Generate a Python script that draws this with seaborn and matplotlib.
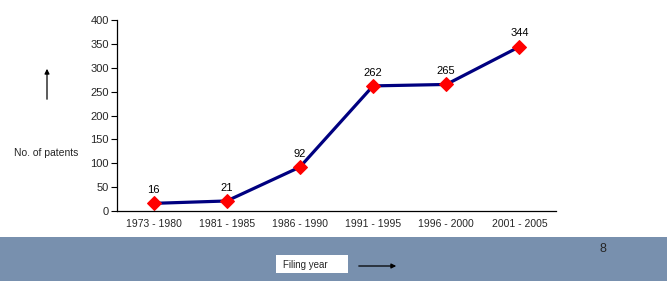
import matplotlib
matplotlib.use("Agg")
import matplotlib.pyplot as plt
import seaborn as sns
import pandas as pd
from matplotlib.patches import Rectangle

periods = ["1973 - 1980", "1981 - 1985", "1986 - 1990", "1991 - 1995", "1996 - 2000", "2001 - 2005"]
patents = [16, 21, 92, 262, 265, 344]
y_ticks = [0, 50, 100, 150, 200, 250, 300, 350, 400]

sns.set_style("white")
plt.rcParams['font.family'] = ['Liberation Sans', 'DejaVu Sans']

df = pd.DataFrame({"period": periods, "patents": patents, "pos": range(len(periods))})

fig = plt.figure(figsize=(6.67, 2.81), dpi=100)
fig.patch.set_facecolor("white")

# bottom band
fig.patches.append(Rectangle((0, 0), 1, 1 - 237 / 281, transform=fig.transFigure,
                             facecolor="#7890ae", edgecolor="none", zorder=0))

ax = fig.add_axes([117 / 667, 1 - 211 / 281, (556 - 117) / 667, (211 - 20) / 281])
ax.set_facecolor("none")

sns.lineplot(data=df, x="pos", y="patents", ax=ax, color="#000080", linewidth=2.3,
             marker="D", markersize=7.5, markerfacecolor="#ff0000", markeredgecolor="#ff0000")

for p, v in zip(df["pos"], df["patents"]):
    ax.annotate(str(v), (p, v), xytext=(0, 6), textcoords="offset points",
                ha="center", va="bottom", fontsize=8, color="black")

ax.set_xlim(-0.5, len(periods) - 0.5)
ax.set_ylim(0, 400)
ax.set_yticks(y_ticks)
ax.set_yticklabels([str(t) for t in y_ticks], fontsize=8)
ax.set_xticks(range(len(periods)))
ax.set_xticklabels(periods, fontsize=7.5)
ax.set_xticks([i - 0.5 for i in range(len(periods) + 1)], minor=True)
ax.tick_params(axis="x", which="major", length=0, pad=6)
ax.tick_params(axis="x", which="minor", length=4, direction="out", width=0.8, color="black")
ax.tick_params(axis="y", which="major", length=4, direction="out", width=0.8, color="black", pad=2, left=True)
ax.set_xlabel("")
ax.set_ylabel("")
for s in ["top", "right"]:
    ax.spines[s].set_visible(False)
for s in ["left", "bottom"]:
    ax.spines[s].set_color("black")
    ax.spines[s].set_linewidth(0.9)

# y label and arrow
fig.text(46 / 667, 1 - 153 / 281, "No. of patents", ha="center", va="center", fontsize=7.5)
fig.add_artist(matplotlib.patches.FancyArrowPatch((47 / 667, 1 - 102 / 281), (47 / 667, 1 - 66 / 281),
               transform=fig.transFigure, arrowstyle="-|>", mutation_scale=7, color="black", lw=0.9))

# filing year box and arrow
fig.patches.append(Rectangle((276 / 667, 1 - 273 / 281), 72 / 667, 18 / 281, transform=fig.transFigure,
                             facecolor="white", edgecolor="none", zorder=1))
fig.text(283 / 667, 1 - 265 / 281, "Filing year", ha="left", va="center", fontsize=7, zorder=2)
fig.add_artist(matplotlib.patches.FancyArrowPatch((356 / 667, 1 - 266 / 281), (399 / 667, 1 - 266 / 281),
               transform=fig.transFigure, arrowstyle="-|>", mutation_scale=7, color="black", lw=0.9))

fig.text(603 / 667, 1 - 249 / 281, "8", ha="center", va="center", fontsize=9)

fig.savefig("out.png", dpi=100)
